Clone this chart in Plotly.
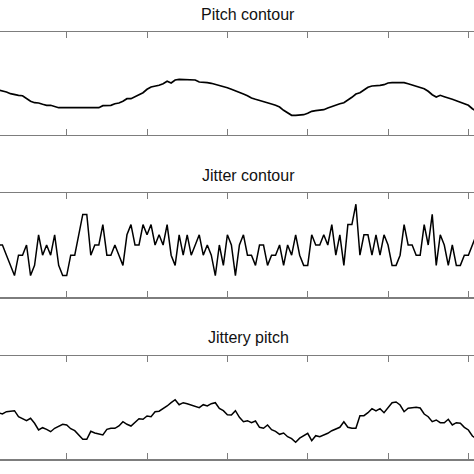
import plotly.graph_objects as go

# ---- data ----
sample_index = list(range(3, 123))

pitch_contour = [
    -7, -7.7, -9, -10.7, -11.7, -12.3, -12.7, -15.7, -18.3, -19.7,
    -20, -21.3, -22.3, -22.3, -23.3, -24.7, -24.7, -24.7, -24.7, -24.7,
    -24.7, -24.7, -24.7, -24.7, -24.7, -24.7, -22.7, -22.3, -22.3, -20.7,
    -20, -18.3, -15.7, -15.7, -14, -11.7, -9.7, -6.3, -4, -3.3,
    -2.3, -0.7, 1.7, 0, 3, 3.7, 3.7, 3.7, 3.7, 3,
    1, 0.3, 0.3, -0.3, -1.3, -2.3, -3, -4.7, -6.3, -7.7,
    -9.7, -11, -12.7, -15, -16.3, -17.3, -18.3, -19.7, -21, -22.3,
    -24, -27.3, -29.7, -32.3, -32.3, -32.3, -31.7, -30.3, -28.3, -27.7,
    -27.3, -26.7, -25, -23.3, -22.3, -20.7, -19.7, -17.3, -14.3, -11,
    -9.7, -7, -4.3, -3, -2.3, -2.3, -1.7, 0, 0.3, 0.3,
    0.3, 0.3, -0.7, -2, -3, -4, -5.7, -8.3, -11.7, -14,
    -12.3, -13.7, -14.7, -16.3, -17.7, -19, -20.7, -22.3, -25.7, -28.3,
]

jitter_contour = [
    0, 0, -1, -2, -3, -1, -1, 0, -3, -2,
    1, -1, 0, -1, 1, -2, -3, -3, -1, -1,
    1, 3, 3, -1, 0, 0, 2, -1, -1, 0,
    -1, -2, 1, 2, 0, 0, 2, 1, 2, 0,
    1, 0, 2, -1, -2, 1, -1, 1, -1, 0,
    1, -1, 0, -1, -3, 0, -2, 1, 0, -3,
    0, 1, -1, -1, -2, 0, 0, -2, -1, -1,
    0, -2, 0, -1, 1, -1, -2, -2, 1, 0,
    0, 1, 0, 2, -1, 1, -2, 2, 2, 4,
    -1, 1, 1, -1, 1, -1, 1, 0, -2, -2,
    -1, 2, 0, 0, -1, -1, 2, 0, 3, -2,
    1, 0, -2, 0, -2, -2, -1, -1, 0, 1,
]

jittery_pitch = [
    -5, -6.3, -4, -3.6, -3, -9, -10.6, -13, -10.6, -15.6,
    -22.3, -20, -21.6, -24, -20.6, -19, -16.6, -17.3, -21, -23,
    -27.3, -31.6, -31.6, -23.6, -25.3, -26.6, -27.3, -21.6, -20.6, -20.6,
    -18.3, -14, -16.6, -18.3, -15, -11, -11.6, -8.3, -9, -4,
    -3.5, -1.3, 1.7, 5, 8, 3, 5, 4, 2.7, 1.7,
    0, 3, 1.7, 4, 5, -0.7, -3, -7, -7.3, -3,
    -9.6, -14, -13, -15, -13.3, -19.6, -20.6, -17.3, -22, -23.6,
    -26.6, -25.3, -29, -31, -34.5, -30.5, -28, -25.6, -33, -28,
    -29, -27.6, -25.6, -23, -21.6, -19.6, -14, -19.6, -20.6, -20.6,
    -8, -8, -5, -1, -3.3, -1, -5, 0, 5, 5.7,
    2.7, -4, -0.6, 0, 0.4, -0.3, -6.3, -9, -14, -12.3,
    -15, -15, -11.6, -17.3, -15, -15.6, -19.6, -22.3, -28.3, -31,
]

panel_titles = ["Pitch contour", "Jitter contour", "Jittery pitch"]
tick_positions = [20, 40, 60, 80, 100, 120]

# ---- figure ----
W = H = 474
series = [pitch_contour, jitter_contour, jittery_pitch]
line_widths = [1.7, 1.5, 1.5]
# panel frames in pixels (top, bottom) from the top of the picture
frames = [(32, 134.7), (193.3, 297.3), (356, 459.3)]
yranges = [[-51.7, 51], [-5.13, 5.07], [-51.6, 51.7]]
title_centers = [13.3, 174.7, 336.8]

fig = go.Figure()
axis_color = "#7d7d7d"
for i, (vals, lw) in enumerate(zip(series, line_widths)):
    k = "" if i == 0 else str(i + 1)
    fig.add_trace(go.Scatter(
        x=sample_index, y=vals, mode="lines",
        line=dict(color="black", width=lw),
        xaxis="x" + k, yaxis="y" + k, showlegend=False, hoverinfo="skip",
    ))
    top, bot = frames[i]
    fig.update_layout(**{
        "xaxis" + k: dict(
            range=[3.394, 121.40], tickvals=tick_positions, ticks="inside",
            ticklen=6, tickwidth=1, tickcolor=axis_color,
            showline=True, linecolor=axis_color, linewidth=1.2, mirror="ticks",
            showticklabels=False, showgrid=False, zeroline=False,
            anchor="y" + k, domain=[0, 1],
        ),
        "yaxis" + k: dict(
            domain=[1 - bot / H, 1 - top / H], range=yranges[i],
            showline=False, showticklabels=False, showgrid=False,
            zeroline=False, ticks="", anchor="x" + k,
        ),
    })
    fig.add_annotation(
        text=panel_titles[i], xref="paper", yref="paper",
        x=248 / W, y=1 - (title_centers[i] + 1) / H,
        xanchor="center", yanchor="middle", showarrow=False,
        font=dict(family="Liberation Sans, Arial, sans-serif", size=16, color="#111111"),
    )

fig.update_layout(
    width=W, height=H, margin=dict(l=0, r=0, t=0, b=0),
    paper_bgcolor="white", plot_bgcolor="white",
)

fig.write_html(
    "out.html",
    config={"displayModeBar": False, "staticPlot": True},
    post_script="document.body.style.margin='0';",
)
